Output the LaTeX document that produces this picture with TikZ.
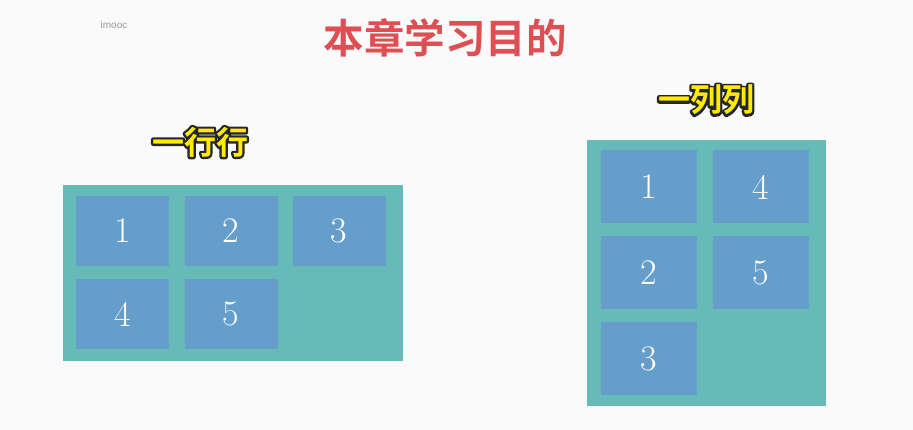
\documentclass[tikz,border=0pt]{standalone}
\usepackage{fontspec}
\newfontfamily\cjk{Noto Sans CJK SC}[BoldFont={Noto Sans CJK SC Bold}]
\setsansfont{Liberation Sans}
\definecolor{bg}{RGB}{250,250,250}
\definecolor{teal}{RGB}{102,187,184}
\definecolor{itemblue}{RGB}{102,158,203}
\definecolor{titlered}{RGB}{222,79,84}
\definecolor{hiyellow}{RGB}{255,236,0}
\tikzset{
  box/.style={fill=teal, draw=none},
  item/.style={fill=itemblue, draw=none, minimum width=93pt, minimum height=70pt, inner sep=0pt,
    text=white, font=\fontsize{36}{36}\selectfont},
  ritem/.style={item, minimum width=96pt, minimum height=73pt},
  outlined/.style={inner sep=0pt, font=\cjk\bfseries\fontsize{32}{32}\selectfont}
}
\newcommand{\outlinetext}[1]{\color{hiyellow}\rlap{\special{pdf:literal 1 Tr 4.5 w 1 j 0.15 0.15 0.15 RG}#1\special{pdf:literal 0 Tr}}#1}
\begin{document}
\begin{tikzpicture}[x=1pt,y=-1pt]
\fill[bg] (0,0) rectangle (913,430);
\useasboundingbox (0,0) rectangle (913,430);
% title
\node[text=titlered, font=\cjk\bfseries\fontsize{40.5}{40.5}\selectfont, inner sep=0pt] (title) at (445,38) {本章学习目的};
\node[text=black!40, font=\sffamily\fontsize{10}{10}\selectfont, inner sep=0pt] (logo) at (114,25) {imooc};
% headings
\node[outlined] (rowhead) at (200,142) {\outlinetext{一行行}};
\node[outlined] (colhead) at (706,100) {\outlinetext{一列列}};
% left container
\fill[box] (63,185) rectangle (403,361);
\node[item] (l1) at (122.5,231) {1};
\node[item] (l2) at (231,231) {2};
\node[item] (l3) at (339,231) {3};
\node[item] (l4) at (122.5,314) {4};
\node[item] (l5) at (231,314) {5};
% right container
\fill[box] (587,140) rectangle (826,406);
\node[ritem] (r1) at (648.5,187) {1};
\node[ritem] (r2) at (648.5,273) {2};
\node[ritem] (r3) at (648.5,358.5) {3};
\node[ritem] (r4) at (760.5,187) {4};
\node[ritem] (r5) at (760.5,273) {5};
\end{tikzpicture}
\end{document}
